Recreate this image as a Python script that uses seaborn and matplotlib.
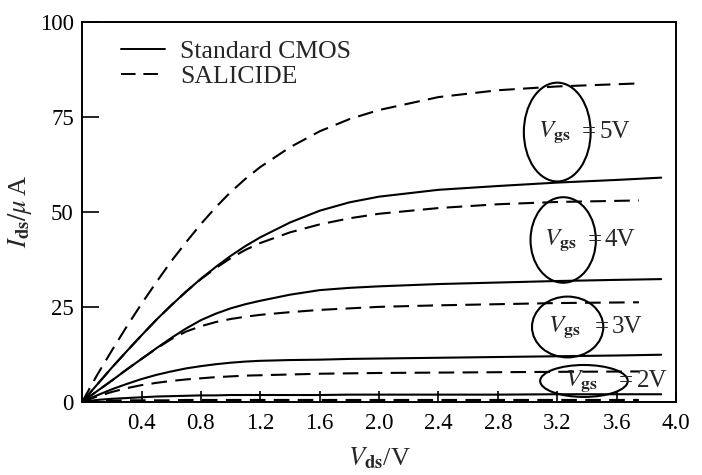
import numpy as np
import pandas as pd
import matplotlib
matplotlib.use("Agg")
import matplotlib.pyplot as plt
import seaborn as sns
from matplotlib.patches import Ellipse

# ── Data ───────────────────────────────────────────────────
vds_s = [0, 0.1, 0.2, 0.3, 0.4, 0.5, 0.6, 0.7, 0.8, 0.9, 1.0, 1.1, 1.2,
         1.4, 1.6, 1.8, 2.0, 2.4, 2.8, 3.2, 3.75]
vds_c = [0, 0.1, 0.2, 0.3, 0.4, 0.5, 0.6, 0.7, 0.8, 0.9, 1.0, 1.1, 1.2,
         1.4, 1.6, 1.8, 2.0, 2.4, 2.8, 3.2, 3.6, 3.9]

sal_5 = [0, 7.0, 13.5, 19.8, 25.8, 31.5, 37.0, 42.0, 46.8, 51.2, 55.2, 58.7, 61.8,
         67.0, 71.2, 74.4, 76.8, 80.2, 82.0, 83.0, 83.8]
sal_4 = [0, 4.5, 9.0, 13.3, 17.5, 21.6, 25.4, 29.0, 32.3, 35.2, 37.8, 40.0, 41.8,
         44.6, 46.7, 48.3, 49.5, 51.0, 52.0, 52.6, 53.0]
sal_3 = [0, 2.8, 5.6, 8.5, 11.3, 14.0, 16.5, 18.5, 19.9, 21.0, 21.8, 22.4, 22.9,
         23.6, 24.2, 24.6, 25.0, 25.4, 25.7, 26.0, 26.2]
sal_2 = [0, 1.4, 2.6, 3.6, 4.4, 5.0, 5.5, 5.9, 6.2, 6.5, 6.7, 6.9, 7.0,
         7.2, 7.4, 7.5, 7.6, 7.7, 7.8, 7.9, 8.0]
sal_1 = [0, 0.2, 0.3, 0.4, 0.4, 0.4, 0.4, 0.5, 0.5, 0.5, 0.5, 0.5, 0.5,
         0.5, 0.5, 0.5, 0.5, 0.5, 0.5, 0.5, 0.5]

cmos_5 = [0, 4.5, 9.0, 13.3, 17.5, 21.6, 25.4, 29.0, 32.4, 35.5, 38.4, 41.0, 43.3,
          47.2, 50.3, 52.5, 54.0, 55.8, 56.8, 57.7, 58.4, 59.0]
cmos_4 = [0, 2.8, 5.6, 8.5, 11.3, 14.1, 16.8, 19.3, 21.5, 23.2, 24.6, 25.7, 26.6,
          28.2, 29.4, 30.0, 30.4, 31.0, 31.4, 31.8, 32.1, 32.3]
cmos_3 = [0, 1.7, 3.3, 4.7, 6.0, 7.1, 8.0, 8.8, 9.4, 9.9, 10.3, 10.6, 10.8,
          11.0, 11.1, 11.3, 11.4, 11.6, 11.8, 12.0, 12.2, 12.4]
cmos_2 = [0, 0.5, 0.8, 1.0, 1.2, 1.4, 1.5, 1.6, 1.7, 1.7, 1.8, 1.8, 1.8,
          1.8, 1.8, 1.9, 1.9, 1.9, 1.9, 2.0, 2.0, 2.0]

# ellipse labels: (Vgs text, centre Vds, centre Ids, width, height)
vgs_labels = ["5V", "4V", "3V", "2V"]
ell_x = [3.20, 3.24, 3.27, 3.38]
ell_y = [71.0, 42.6, 19.7, 5.5]
ell_w = [0.45, 0.44, 0.48, 0.59]
ell_h = [26.0, 22.5, 16.0, 8.4]

x_ticks = [0.4, 0.8, 1.2, 1.6, 2.0, 2.4, 2.8, 3.2, 3.6, 4.0]
y_ticks = [0, 25, 50, 75, 100]

rows = []
for vgs, ys in zip([5, 4, 3, 2, 1], [sal_5, sal_4, sal_3, sal_2, sal_1]):
    rows += [("SALICIDE", vgs, x, y) for x, y in zip(vds_s, ys)]
for vgs, ys in zip([5, 4, 3, 2], [cmos_5, cmos_4, cmos_3, cmos_2]):
    rows += [("Standard CMOS", vgs, x, y) for x, y in zip(vds_c, ys)]
df = pd.DataFrame(rows, columns=["process", "vgs", "Vds", "Ids"])

# ── Plot ─────────────────────────────────────
sns.set_theme(style="ticks")
plt.rcParams["font.family"] = ["Liberation Serif", "DejaVu Serif"]
plt.rcParams["mathtext.fontset"] = "stix"

fig = plt.figure(figsize=(7.02, 4.75), dpi=100)
ax = fig.add_axes([0.117, 0.154, 0.846, 0.800])

sns.lineplot(data=df, x="Vds", y="Ids", style="process", units="vgs",
             estimator=None, color="black", lw=1.5, sort=False,
             style_order=["Standard CMOS", "SALICIDE"],
             dashes={"Standard CMOS": "", "SALICIDE": (7.5, 4)}, ax=ax)

for lab, cx, cy, w, h in zip(vgs_labels, ell_x, ell_y, ell_w, ell_h):
    ax.add_patch(Ellipse((cx, cy), w, h, fill=False, ec="black", lw=1.5, zorder=4))
    ax.text(cx - 0.02, cy, r"$V_{\mathbf{gs}}$", ha="center", va="center",
            fontsize=18, zorder=5)
    ax.text(cx + w / 2 - 0.01, cy, "=", ha="center", va="center", fontsize=18, zorder=5)
    ax.text(cx + w / 2 + 0.06, cy, lab, ha="left", va="center", fontsize=18, zorder=5)

ax.set_xlim(0, 4.0)
ax.set_ylim(0, 100)
ax.set_xticks(x_ticks)
ax.set_xticklabels([f"{t:.1f}" for t in x_ticks])
ax.set_yticks(y_ticks)
ax.tick_params(axis="both", direction="in", labelsize=16.5, colors="black", width=1.2)
ax.tick_params(axis="y", length=12, pad=6)
ax.tick_params(axis="x", length=8, pad=8)
for s in ax.spines.values():
    s.set_color("black"); s.set_linewidth(1.4)

ax.set_xlabel(r"$V_{\mathbf{ds}}$/V", fontsize=19, labelpad=8)
ax.set_ylabel(r"$I_{\mathbf{ds}}/\mu\,$A", fontsize=19, labelpad=4)

leg = ax.legend(loc="upper left", frameon=False, fontsize=18.5, handlelength=1.7,
                handletextpad=0.6, borderaxespad=0.3, labelspacing=0.1,
                bbox_to_anchor=(0.035, 1.0))
for h in leg.get_lines():
    h.set_linewidth(1.4)

plt.savefig("out.png", dpi=100)
plt.close()
